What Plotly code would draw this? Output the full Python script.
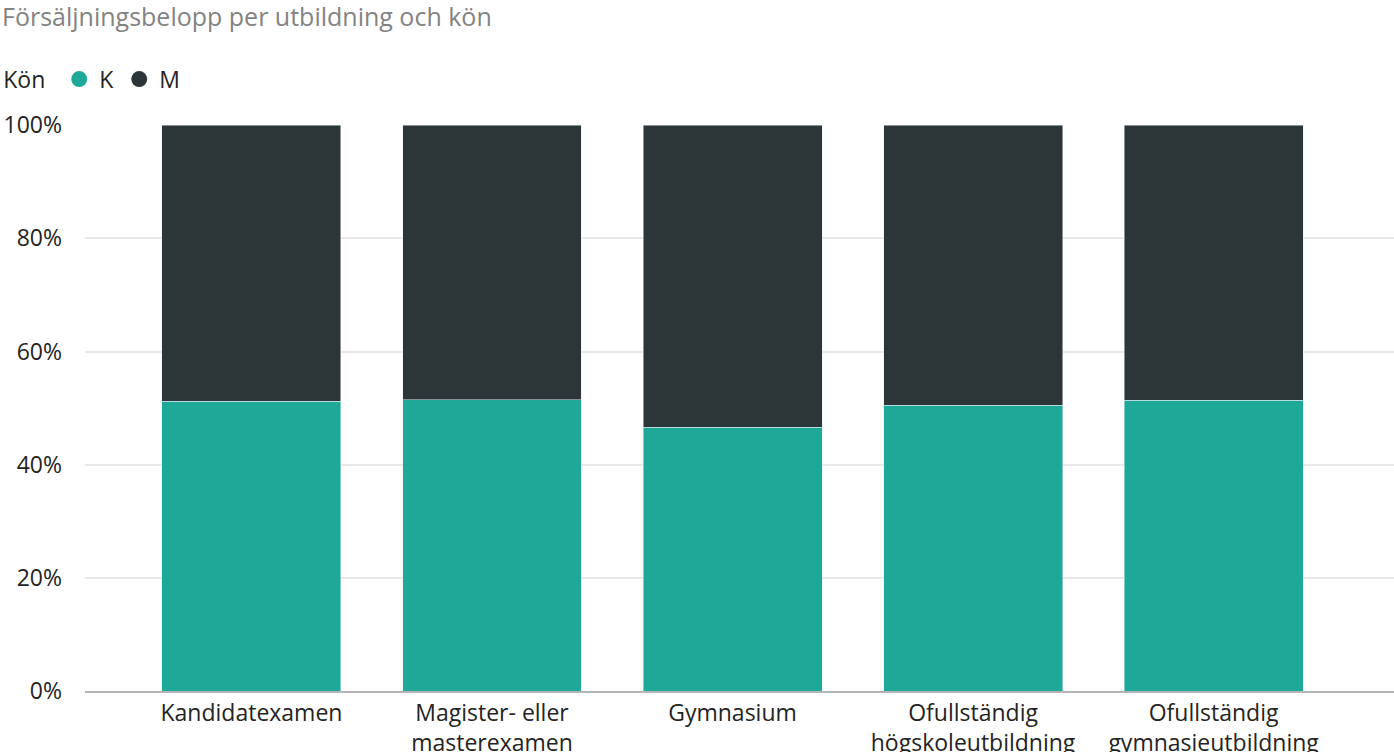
import plotly.graph_objects as go

utbildning = ["Kandidatexamen", "Magister- eller<br>masterexamen", "Gymnasium",
              "Ofullständig<br>högskoleutbildning", "Ofullständig<br>gymnasieutbildning"]
andel_k = [0.512, 0.515, 0.466, 0.505, 0.514]
andel_m = [1 - v for v in andel_k]
y_ticks = [0, 0.2, 0.4, 0.6, 0.8, 1.0]

teal = "#1ea898"
dark = "#2c3638"
font = "Open Sans"

fig = go.Figure()
fig.add_trace(go.Bar(x=utbildning, y=andel_k, name="K", marker=dict(color=teal),
                     width=0.744, showlegend=False))
fig.add_trace(go.Bar(x=utbildning, y=andel_m, name="M", marker=dict(color=dark),
                     width=0.744, showlegend=False))

# legend entries with round markers like the original
for namn, farg in [("K", teal), ("M", dark)]:
    fig.add_trace(go.Scatter(x=[None], y=[None], mode="markers", name=namn,
                             marker=dict(color=farg, size=20, symbol="circle")))

fig.update_layout(
    width=1394, height=752,
    barmode="stack",
    plot_bgcolor="white", paper_bgcolor="white",
    margin=dict(l=85, r=0, t=125, b=61),
    font=dict(family=font, size=23, color="#252423"),
    legend=dict(orientation="h", x=-0.064, xanchor="left",
                y=1.081, yanchor="middle", traceorder="normal",
                itemsizing="trace",
                title=dict(text="Kön ", font=dict(size=23)),
                font=dict(size=23), itemwidth=30, tracegroupgap=0),
    showlegend=True,
)
fig.add_annotation(text="Försäljningsbelopp per utbildning och kön",
                   xref="paper", yref="paper", x=-0.0648, y=(691 - 16) / 566,
                   xanchor="left", yanchor="middle", showarrow=False,
                   font=dict(family=font, size=25, color="#838383"))
fig.update_xaxes(range=[-0.692, 4.75], showgrid=False, showline=True,
                 linecolor="#b5b5b5", linewidth=2, ticks="", automargin=False,
                 tickfont=dict(size=23))
fig.update_yaxes(range=[0, 1.0005], tickvals=y_ticks, tickformat=".0%",
                 showgrid=True, gridcolor="#e8e8e8", gridwidth=1.5,
                 zeroline=False, ticklabelstandoff=22, automargin=False,
                 tickfont=dict(size=23))

fig.write_html("out.html", config={"displayModeBar": False},
               post_script="document.body.style.margin='0';")
